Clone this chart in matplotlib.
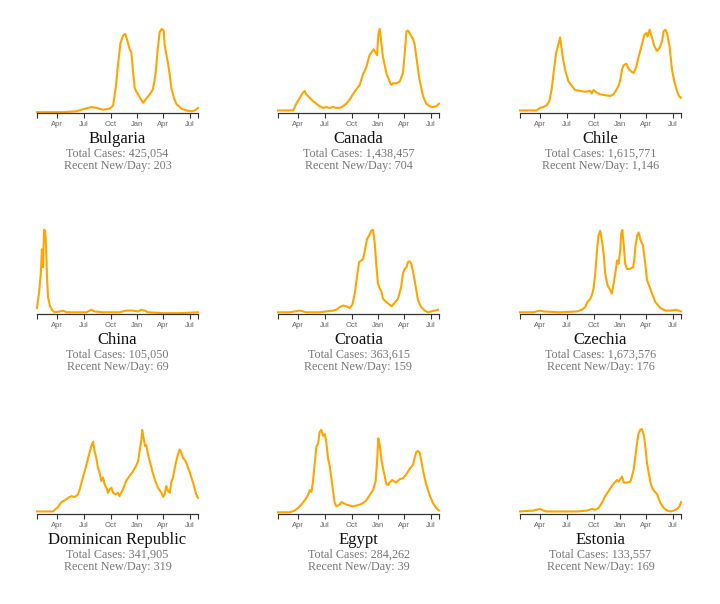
import datetime as dt

import matplotlib
matplotlib.use("Agg")
import matplotlib.pyplot as plt
import matplotlib.dates as mdates
import numpy as np

# daily new cases, as % of each country's peak
# x values are days since 2020-01-22
START = dt.date(2020, 1, 22)
END = dt.date(2021, 7, 29)

countries = ["Bulgaria", "Canada", "Chile", "China", "Croatia", "Czechia",
             "Dominican Republic", "Egypt", "Estonia"]
total_cases = ["425,054", "1,438,457", "1,615,771", "105,050", "363,615",
               "1,673,576", "341,905", "284,262", "133,557"]
recent_new = ["203", "704", "1,146", "69", "159", "176", "319", "39", "169"]

bulgaria_day = [0, 89, 135, 164, 187, 204, 227, 250, 262, 271, 279, 287, 296, 304,
                311, 319, 325, 330, 336, 342, 348, 356, 365, 376, 388, 399, 408, 416,
                422, 429, 436, 439, 445, 451, 457, 462, 470, 479, 497, 514, 531, 543, 554]
bulgaria_val = [1, 1, 2, 5, 7, 6, 4, 5, 9, 30, 58, 82, 91, 93,
                85, 75, 71, 50, 30, 25, 22, 17, 12, 17, 22, 28, 46, 77,
                95, 99, 97, 81, 69, 58, 44, 30, 19, 11, 5, 3, 2, 3, 6]

canada_day = [0, 52, 63, 75, 86, 92, 97, 109, 120, 132, 143, 155, 166, 178, 189, 201,
              212, 224, 235, 247, 258, 270, 281, 292, 304, 315, 321, 329, 336, 341,
              345, 350, 356, 361, 373, 384, 390, 396, 407, 419, 430, 436, 442, 447,
              453, 459, 465, 470, 476, 487, 499, 510, 522, 533, 545, 554]
canada_val = [3, 3, 11, 18, 24, 26, 22, 18, 14, 11, 8, 6, 7, 6, 7, 6,
              6, 8, 11, 16, 22, 28, 33, 45, 54, 68, 71, 75, 71, 68,
              92, 99, 81, 66, 47, 37, 33, 35, 35, 37, 47, 70, 96, 97,
              94, 90, 87, 81, 66, 39, 20, 11, 8, 7, 8, 11]

chile_day = [0, 57, 69, 80, 92, 101, 109, 117, 124, 132, 138, 141, 147, 155, 167, 178,
             190, 207, 224, 241, 247, 253, 264, 276, 293, 310, 322, 333, 339, 345,
             351, 356, 366, 374, 382, 391, 400, 408, 420, 428, 435, 439, 446, 454,
             462, 471, 481, 489, 494, 500, 506, 515, 523, 531, 540, 547, 554]
chile_val = [3, 3, 6, 7, 9, 14, 28, 51, 70, 81, 89, 81, 66, 51, 37, 32,
             27, 26, 25, 26, 23, 27, 24, 22, 21, 20, 22, 28, 32, 39,
             51, 56, 58, 52, 49, 47, 54, 66, 81, 92, 94, 90, 98, 89,
             79, 73, 77, 85, 96, 98, 94, 77, 51, 37, 26, 20, 18]

china_day = [0, 7, 13, 17, 21, 24, 28, 31, 34, 38, 44, 53, 61, 78, 90, 101, 135,
             170, 187, 198, 227, 284, 307, 330, 348, 359, 371, 382, 434, 491, 554]
china_val = [7, 25, 47, 76, 55, 99, 98, 82, 47, 20, 10, 4, 2, 3, 4, 2, 2,
             2, 5, 3, 2, 2, 4, 4, 3, 5, 4, 2, 1, 1, 2]

croatia_day = [0, 40, 75, 98, 143, 166, 189, 201, 212, 224, 235, 247, 256, 264, 272,
               279, 287, 293, 298, 306, 313, 321, 327, 333, 338, 344, 350, 356, 361,
               373, 384, 391, 401, 413, 424, 430, 436, 442, 447, 453, 459, 465, 474,
               482, 493, 505, 516, 528, 539, 551]
croatia_val = [2, 2, 4, 2, 2, 3, 4, 5, 8, 10, 9, 7, 11, 24, 44,
               61, 63, 65, 73, 88, 92, 98, 99, 83, 59, 36, 30, 26, 18,
               14, 11, 9, 13, 18, 32, 48, 53, 55, 61, 62, 59, 49, 32,
               16, 8, 4, 2, 3, 4, 5]

czechia_day = [0, 46, 69, 81, 138, 196, 213, 224, 232, 242, 247, 253, 259, 265, 270,
               276, 282, 288, 293, 301, 311, 316, 322, 328, 334, 339, 345, 348, 352,
               357, 362, 368, 377, 389, 393, 397, 403, 408, 416, 423, 431, 437, 446,
               454, 466, 483, 500, 518, 535, 546, 554]
czechia_val = [2, 2, 4, 3, 2, 3, 5, 8, 14, 18, 22, 30, 48, 75, 92,
               98, 86, 71, 48, 34, 28, 24, 36, 48, 63, 59, 75, 94, 99,
               81, 59, 53, 53, 55, 63, 79, 92, 96, 86, 81, 59, 40, 32,
               24, 14, 7, 4, 4, 5, 4, 3]

dominican_day = [0, 55, 61, 72, 84, 95, 107, 118, 130, 141, 147, 158, 170, 179, 187,
                 193, 198, 204, 210, 216, 221, 227, 233, 239, 244, 250, 256, 262, 271,
                 279, 284, 296, 307, 319, 330, 340, 348, 353, 359, 362, 367, 372, 376,
                 382, 388, 397, 405, 416, 428, 434, 439, 445, 451, 457, 462, 468, 474,
                 479, 485, 491, 497, 502, 508, 514, 520, 525, 531, 537, 543, 548, 554]
dominican_val = [3, 3, 5, 8, 14, 16, 19, 21, 20, 23, 29, 43, 58, 70, 80,
                 85, 74, 66, 54, 48, 39, 43, 35, 31, 25, 29, 31, 25, 23,
                 25, 21, 29, 39, 45, 50, 56, 62, 74, 87, 99, 89, 80, 81,
                 70, 62, 50, 41, 31, 25, 20, 23, 33, 27, 25, 37, 43, 54,
                 62, 70, 76, 72, 66, 64, 60, 54, 50, 43, 37, 29, 23, 19]

egypt_day = [0, 40, 57, 69, 80, 92, 103, 109, 115, 120, 126, 132, 138, 143, 149, 155,
             161, 166, 172, 178, 184, 189, 195, 201, 206, 212, 218, 224, 235, 247,
             258, 270, 281, 293, 304, 315, 327, 336, 341, 345, 350, 356, 361, 367,
             373, 379, 384, 393, 401, 407, 419, 430, 442, 453, 465, 470, 476, 482,
             488, 499, 510, 522, 533, 545, 554]
egypt_val = [2, 2, 4, 7, 11, 16, 22, 28, 26, 37, 58, 79, 83, 96, 99, 92,
             94, 85, 66, 56, 41, 28, 13, 9, 10, 11, 14, 13, 11, 10,
             9, 10, 11, 13, 16, 22, 28, 39, 62, 89, 81, 64, 54, 45,
             35, 34, 37, 40, 38, 37, 41, 42, 47, 53, 58, 66, 73, 74,
             72, 51, 35, 22, 13, 7, 4]

estonia_day = [0, 46, 69, 81, 92, 138, 196, 230, 247, 259, 270, 282, 293, 305, 316,
               328, 334, 339, 345, 351, 357, 368, 380, 385, 391, 397, 403, 408, 414,
               419, 426, 431, 437, 443, 449, 454, 462, 472, 483, 495, 506, 518, 529,
               541, 549, 554]
estonia_val = [3, 4, 6, 4, 3, 3, 3, 4, 6, 5, 7, 13, 21, 27, 33,
               38, 40, 38, 41, 44, 37, 37, 38, 44, 52, 68, 84, 95, 99,
               100, 93, 80, 60, 48, 37, 31, 27, 23, 13, 7, 4, 3, 4,
               6, 9, 14]

series = [
    (bulgaria_day, bulgaria_val), (canada_day, canada_val), (chile_day, chile_val),
    (china_day, china_val), (croatia_day, croatia_val), (czechia_day, czechia_val),
    (dominican_day, dominican_val), (egypt_day, egypt_val), (estonia_day, estonia_val),
]

tick_dates = [dt.date(2020, 4, 1), dt.date(2020, 7, 1), dt.date(2020, 10, 1),
              dt.date(2021, 1, 1), dt.date(2021, 4, 1), dt.date(2021, 7, 1)]

W, H = 720, 604
fig = plt.figure(figsize=(W / 100, H / 100), dpi=100)

col_left = [37, 278, 520]
row_axis = [113, 314, 514]
ax_w, ax_h = 161, 85

for i, name in enumerate(countries):
    r, c = divmod(i, 3)
    left = col_left[c] / W
    bottom = 1 - row_axis[r] / H
    ax = fig.add_axes([left, bottom, ax_w / W, ax_h / H])

    days, vals = series[i]
    dates = [START + dt.timedelta(days=d) for d in days]
    ax.plot(dates, vals, color="#ffa500", linewidth=1.5, clip_on=False,
            solid_joinstyle="round")

    ax.set_xlim(START, END)
    ax.set_ylim(0, 100)
    for s in ["top", "right", "left"]:
        ax.spines[s].set_visible(False)
    ax.spines["bottom"].set_color("#333333")
    ax.spines["bottom"].set_linewidth(0.9)
    ax.set_yticks([])
    ax.set_xticks(tick_dates)
    ax.xaxis.set_major_formatter(mdates.DateFormatter("%b"))
    ax.set_xticks([START, END], minor=True)
    ax.tick_params(axis="x", which="both", length=3.5, width=0.8, color="#333333",
                   labelsize=5.5, labelcolor="#666666", pad=2)
    for lab in ax.get_xticklabels():
        lab.set_family("Liberation Sans")

    ax.annotate(name, xy=(0.5, 0), xycoords="axes fraction",
                xytext=(0, -30), textcoords="offset pixels",
                ha="center", va="baseline", fontsize=12, color="#111111",
                family="Liberation Serif")
    ax.annotate(f"Total Cases: {total_cases[i]}", xy=(0.5, 0), xycoords="axes fraction",
                xytext=(0, -44), textcoords="offset pixels",
                ha="center", va="baseline", fontsize=8.7, color="#777777",
                family="Liberation Serif")
    ax.annotate(f"Recent New/Day: {recent_new[i]}", xy=(0.5, 0), xycoords="axes fraction",
                xytext=(0, -56), textcoords="offset pixels",
                ha="center", va="baseline", fontsize=8.7, color="#777777",
                family="Liberation Serif")

fig.savefig("out.png", dpi=100)
